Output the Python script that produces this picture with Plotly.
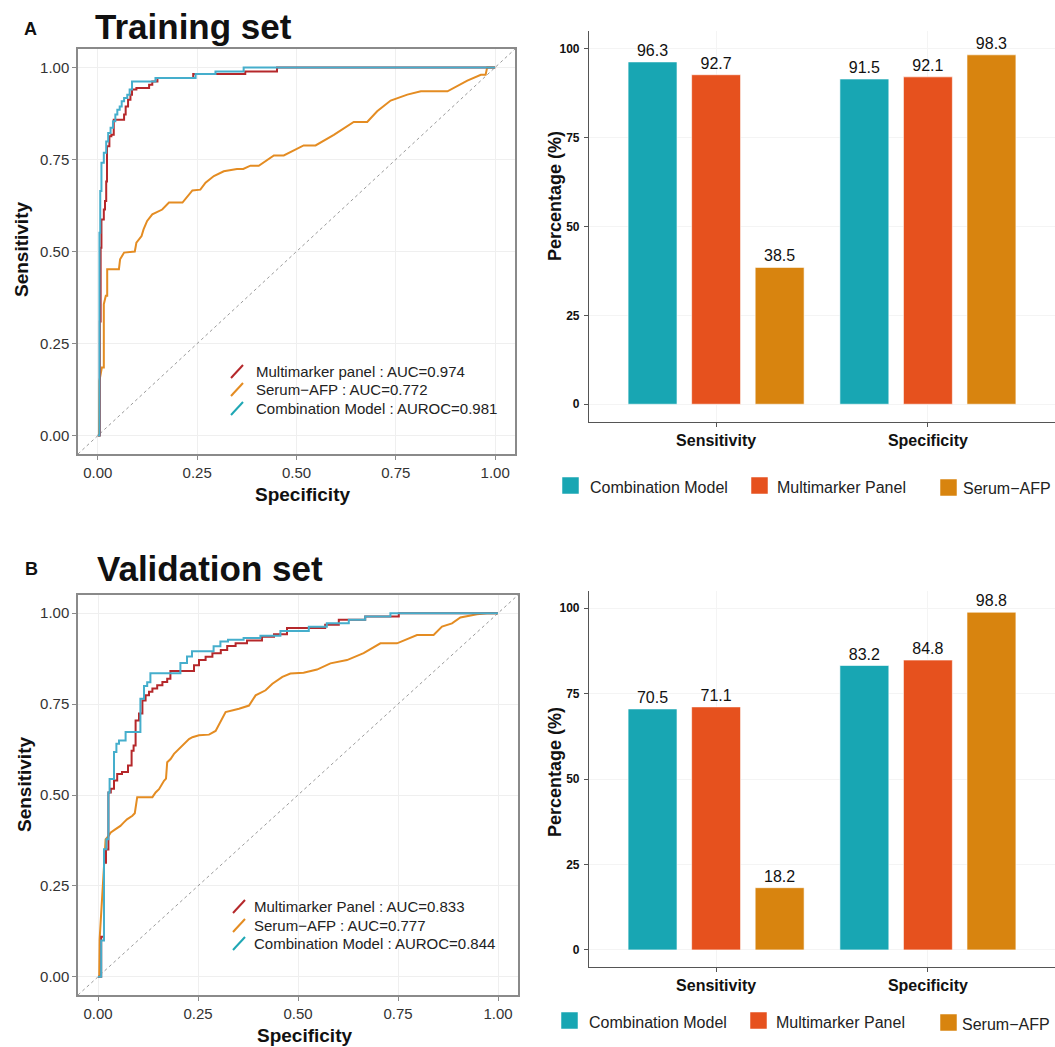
import plotly.graph_objects as go

W, H = 1055, 1047
FONT = "Liberation Sans, Arial, sans-serif"


def fx(px):
    return px / W


def fy(py):
    return 1 - py / H


# ---------------- ROC data (training set) ----------------
train_multi_fpr = [0, 0.005, 0.007, 0.009, 0.015, 0.018, 0.021, 0.023, 0.029, 0.034, 0.040, 0.066, 0.070,
                   0.076, 0.082, 0.086, 0.097, 0.129, 0.137, 0.150, 0.240, 0.371, 0.451, 1.0]
train_multi_tpr = [0, 0.31, 0.51, 0.587, 0.614, 0.637, 0.69, 0.786, 0.813, 0.817, 0.858, 0.872, 0.894,
                   0.912, 0.926, 0.94, 0.944, 0.953, 0.962, 0.971, 0.982, 0.989, 1.0, 1.0]

train_comb_fpr = [0, 0.004, 0.006, 0.009, 0.015, 0.021, 0.026, 0.032, 0.038, 0.044, 0.049, 0.055, 0.060,
                  0.066, 0.074, 0.080, 0.086, 0.145, 0.246, 0.296, 0.367, 1.0]
train_comb_tpr = [0, 0.551, 0.664, 0.741, 0.768, 0.799, 0.822, 0.836, 0.854, 0.872, 0.885, 0.894, 0.908,
                  0.917, 0.926, 0.940, 0.962, 0.971, 0.982, 0.989, 1.0, 1.0]

train_afp_fpr = [0, 0.003, 0.004, 0.010, 0.015, 0.015, 0.020, 0.0235, 0.0235, 0.053, 0.056, 0.066, 0.093,
                 0.097, 0.110, 0.115, 0.124, 0.137, 0.162, 0.179, 0.213, 0.238, 0.258, 0.271, 0.292, 0.317,
                 0.350, 0.366, 0.384, 0.405, 0.443, 0.468, 0.518, 0.548, 0.594, 0.644, 0.678, 0.703, 0.737,
                 0.779, 0.813, 0.880, 0.930, 0.964, 0.976, 0.980, 1.0]
train_afp_tpr = [0, 0, 0.149, 0.185, 0.185, 0.357, 0.38, 0.38, 0.452, 0.452, 0.479, 0.497, 0.50, 0.524,
                 0.542, 0.56, 0.583, 0.601, 0.614, 0.633, 0.633, 0.666, 0.668, 0.687, 0.705, 0.718, 0.724,
                 0.724, 0.733, 0.733, 0.761, 0.761, 0.788, 0.788, 0.817, 0.852, 0.852, 0.881, 0.91, 0.926,
                 0.935, 0.935, 0.964, 0.98, 0.98, 1.0, 1.0]

# ---------------- ROC data (validation set) ----------------
valid_multi_fpr = [0, 0.008, 0.015, 0.020, 0.026, 0.032, 0.040, 0.048, 0.060, 0.075, 0.084, 0.089, 0.094,
                   0.1025, 0.111, 0.119, 0.1275, 0.136, 0.148, 0.161, 0.173, 0.181, 0.240, 0.2525, 0.269,
                   0.286, 0.307, 0.323, 0.344, 0.3725, 0.41, 0.44, 0.4725, 0.568, 0.602, 0.668, 0.752, 1.0]
valid_multi_tpr = [0, 0.11, 0.314, 0.35, 0.507, 0.517, 0.54, 0.558, 0.563, 0.581, 0.622, 0.636, 0.705,
                   0.724, 0.760, 0.774, 0.784, 0.793, 0.802, 0.811, 0.820, 0.841, 0.857, 0.871, 0.880,
                   0.890, 0.899, 0.910, 0.917, 0.925, 0.935, 0.942, 0.959, 0.968, 0.982, 0.991, 1.0, 1.0]

valid_comb_fpr = [0, 0.008, 0.015, 0.021, 0.026, 0.029, 0.040, 0.046, 0.0525, 0.069, 0.106, 0.115, 0.123,
                  0.131, 0.206, 0.2225, 0.235, 0.289, 0.306, 0.325, 0.364, 0.406, 0.456, 0.527, 0.572,
                  0.627, 0.668, 0.731, 1.0]
valid_comb_tpr = [0, 0.10, 0.351, 0.378, 0.507, 0.544, 0.618, 0.641, 0.65, 0.673, 0.765, 0.80, 0.81,
                  0.835, 0.863, 0.881, 0.895, 0.909, 0.922, 0.927, 0.932, 0.938, 0.951, 0.963, 0.972,
                  0.982, 0.991, 1.0, 1.0]

valid_afp_fpr = [0, 0.003, 0.004, 0.011, 0.015, 0.019, 0.026, 0.032, 0.044, 0.056, 0.064, 0.0725, 0.086,
                 0.092, 0.098, 0.136, 0.144, 0.1525, 0.165, 0.170, 0.173, 0.1815, 0.19, 0.198, 0.211,
                 0.2275, 0.236, 0.2525, 0.2775, 0.294, 0.319, 0.3525, 0.3775, 0.394, 0.419, 0.436, 0.461,
                 0.481, 0.514, 0.5475, 0.581, 0.6225, 0.664, 0.706, 0.7475, 0.7975, 0.839, 0.86, 0.885,
                 0.906, 0.9475, 0.9725, 1.0]
valid_afp_tpr = [0, 0, 0.102, 0.24, 0.30, 0.378, 0.387, 0.397, 0.406, 0.415, 0.424, 0.433, 0.443, 0.45,
                 0.494, 0.494, 0.507, 0.516, 0.539, 0.545, 0.59, 0.599, 0.613, 0.622, 0.636, 0.654, 0.659,
                 0.664, 0.666, 0.676, 0.728, 0.737, 0.746, 0.774, 0.788, 0.806, 0.825, 0.834, 0.836, 0.845,
                 0.862, 0.871, 0.890, 0.917, 0.917, 0.94, 0.94, 0.963, 0.972, 0.988, 0.997, 1.0, 1.0]

train_roc_labels = ["Multimarker panel : AUC=0.974", "Serum\u2212AFP : AUC=0.772",
                    "Combination Model : AUROC=0.981"]
valid_roc_labels = ["Multimarker Panel : AUC=0.833", "Serum\u2212AFP : AUC=0.777",
                    "Combination Model : AUROC=0.844"]

roc_ticks = [0, 0.25, 0.5, 0.75, 1.0]

# ---------------- Bar data ----------------
metrics = ["Sensitivity", "Specificity"]
models = ["Combination Model", "Multimarker Panel", "Serum\u2212AFP"]
train_comb = [96.3, 91.5]
train_multi = [92.7, 92.1]
train_afp = [38.5, 98.3]
valid_comb = [70.5, 83.2]
valid_multi = [71.1, 84.8]
valid_afp = [18.2, 98.8]
pct_ticks = [0, 25, 50, 75, 100]

# ---------------- Styles ----------------
ROC_RED = "#B5282B"
ROC_ORANGE = "#E48C22"
ROC_TEAL = "#45AECC"
BAR_COLORS = ["#18A6B3", "#E6511E", "#D8840F"]

fig = go.Figure()


def add_roc(xa, ya, multi, afp, comb):
    fig.add_trace(go.Scatter(x=[-0.05, 1.05], y=[-0.05, 1.05], mode="lines", xaxis=xa, yaxis=ya,
                             line=dict(color="#9a9a9a", width=1, dash="dot"), showlegend=False,
                             hoverinfo="skip"))
    fig.add_trace(go.Scatter(x=afp[0], y=afp[1], mode="lines", xaxis=xa, yaxis=ya, name="Serum\u2212AFP",
                             line=dict(color=ROC_ORANGE, width=2), showlegend=False))
    fig.add_trace(go.Scatter(x=multi[0], y=multi[1], mode="lines", xaxis=xa, yaxis=ya,
                             name="Multimarker panel", line=dict(color=ROC_RED, width=2, shape="hv"),
                             showlegend=False))
    fig.add_trace(go.Scatter(x=comb[0], y=comb[1], mode="lines", xaxis=xa, yaxis=ya,
                             name="Combination Model", line=dict(color=ROC_TEAL, width=2, shape="hv"),
                             showlegend=False))


add_roc("x", "y", (train_multi_fpr, train_multi_tpr), (train_afp_fpr, train_afp_tpr),
        (train_comb_fpr, train_comb_tpr))
add_roc("x3", "y3", (valid_multi_fpr, valid_multi_tpr), (valid_afp_fpr, valid_afp_tpr),
        (valid_comb_fpr, valid_comb_tpr))


def add_bars(xa, ya, vals):
    for name, v, c in zip(models, vals, BAR_COLORS):
        fig.add_trace(go.Bar(x=metrics, y=v, name=name, xaxis=xa, yaxis=ya, marker=dict(color=c,
                             line=dict(color="rgba(255,255,255,0.6)", width=1)),
                             texttemplate="%{y:.1f}", textposition="outside",
                             textfont=dict(size=16, color="#111", family=FONT), cliponaxis=False,
                             showlegend=False))


add_bars("x2", "y2", [train_comb, train_multi, train_afp])
add_bars("x4", "y4", [valid_comb, valid_multi, valid_afp])


def roc_axis(dom, anchor):
    return dict(domain=dom, anchor=anchor, range=[-0.05, 1.05], tickvals=roc_ticks, tickformat=".2f",
                ticks="outside", ticklen=4, tickcolor="#8a8a8a", tickwidth=1, showline=True, mirror=True,
                linecolor="#8a8a8a", linewidth=1.5, showgrid=True, gridcolor="#efefef", gridwidth=1,
                zeroline=False, ticklabelstandoff=0, tickfont=dict(size=15, color="#333", family=FONT))


def bar_xaxis(dom, anchor):
    return dict(domain=dom, anchor=anchor, type="category", range=[-0.6, 1.6], showline=True,
                linecolor="#555", linewidth=1.2, ticks="outside", ticklen=4, tickcolor="#555",
                showgrid=True, gridcolor="#f4f4f4", ticklabelstandoff=0,
                tickfont=dict(size=16, color="#111", family=FONT, weight="bold"))


def bar_yaxis(dom, anchor):
    return dict(domain=dom, anchor=anchor, range=[-5, 105], tickvals=pct_ticks, showline=True,
                linecolor="#555", linewidth=1.2, ticks="outside", ticklen=4, tickcolor="#555",
                showgrid=True, gridcolor="#f4f4f4", zeroline=False, ticklabelstandoff=2,
                tickfont=dict(size=12, color="#111", family=FONT, weight="bold"))


fig.update_layout(
    width=W, height=H, margin=dict(l=0, r=0, t=0, b=0),
    paper_bgcolor="white", plot_bgcolor="white",
    font=dict(family=FONT, color="#111"),
    barmode="group", bargap=0.1, bargroupgap=0.23,
    xaxis=roc_axis([fx(78), fx(515)], "y"),
    yaxis=roc_axis([fy(454), fy(49)], "x"),
    xaxis3=roc_axis([fx(78), fx(518)], "y3"),
    yaxis3=roc_axis([fy(995), fy(595)], "x3"),
    xaxis2=bar_xaxis([fx(589), 1.0], "y2"),
    yaxis2=bar_yaxis([fy(422), fy(31)], "x2"),
    xaxis4=bar_xaxis([fx(589), 1.0], "y4"),
    yaxis4=bar_yaxis([fy(967), fy(591)], "x4"),
)

ann = []
shapes = []


def text(px, py, s, size, bold=False, xanchor="center", angle=0, color="#111"):
    ann.append(dict(x=fx(px), y=fy(py), xref="paper", yref="paper", text=s, showarrow=False,
                    xanchor=xanchor, yanchor="middle", textangle=angle,
                    font=dict(size=size, family=FONT, color=color, weight="bold" if bold else "normal")))


# panel labels and titles
text(30, 29, "A", 18, bold=True)
text(93, 26, "Training set", 35, bold=True, xanchor="left")
text(31, 569, "B", 18, bold=True)
text(95, 568, "Validation set", 35, bold=True, xanchor="left")

# ROC axis titles
text(302, 495, "Specificity", 19, bold=True)
text(21, 250, "Sensitivity", 19, bold=True, angle=-90)
text(304, 1035, "Specificity", 19, bold=True)
text(24, 785, "Sensitivity", 19, bold=True, angle=-90)

# Bar y titles
text(555, 196, "Percentage (%)", 18, bold=True, angle=-90)
text(555, 772, "Percentage (%)", 18, bold=True, angle=-90)

# ROC legends
roc_cols = [ROC_RED, ROC_ORANGE, "#1FA7B4"]
for labels, gx, tx, rows in [(train_roc_labels, 231, 254, [371, 389, 408]),
                             (valid_roc_labels, 233, 252, [906, 925, 943])]:
    for lab, col, ry in zip(labels, roc_cols, rows):
        shapes.append(dict(type="line", xref="paper", yref="paper", x0=fx(gx), y0=fy(ry + 7),
                           x1=fx(gx + 12), y1=fy(ry - 6), line=dict(color=col, width=2)))
        text(tx, ry, lab, 15, xanchor="left", color="#222")

# Bar legends
for boxes, texts, ly in [([562, 751, 940], [588, 775, 961], 485), ([561, 750, 940], [587, 774, 960], 1020)]:
    for name, col, bx, tx in zip(models, BAR_COLORS, boxes, texts):
        off = 2 if name.startswith("Serum") else 0
        shapes.append(dict(type="rect", xref="paper", yref="paper", x0=fx(bx), x1=fx(bx + 17),
                           y0=fy(ly + 9 + off), y1=fy(ly - 8 + off), fillcolor=col,
                           line=dict(color="rgba(255,255,255,0.5)", width=1)))
        text(tx, ly + 2 + off, name, 16, xanchor="left", color="#222")

fig.update_layout(annotations=ann, shapes=shapes)
fig.write_html("out.html", config={"displayModeBar": False},
               post_script="document.body.style.margin='0px';document.body.style.overflow='hidden';")
